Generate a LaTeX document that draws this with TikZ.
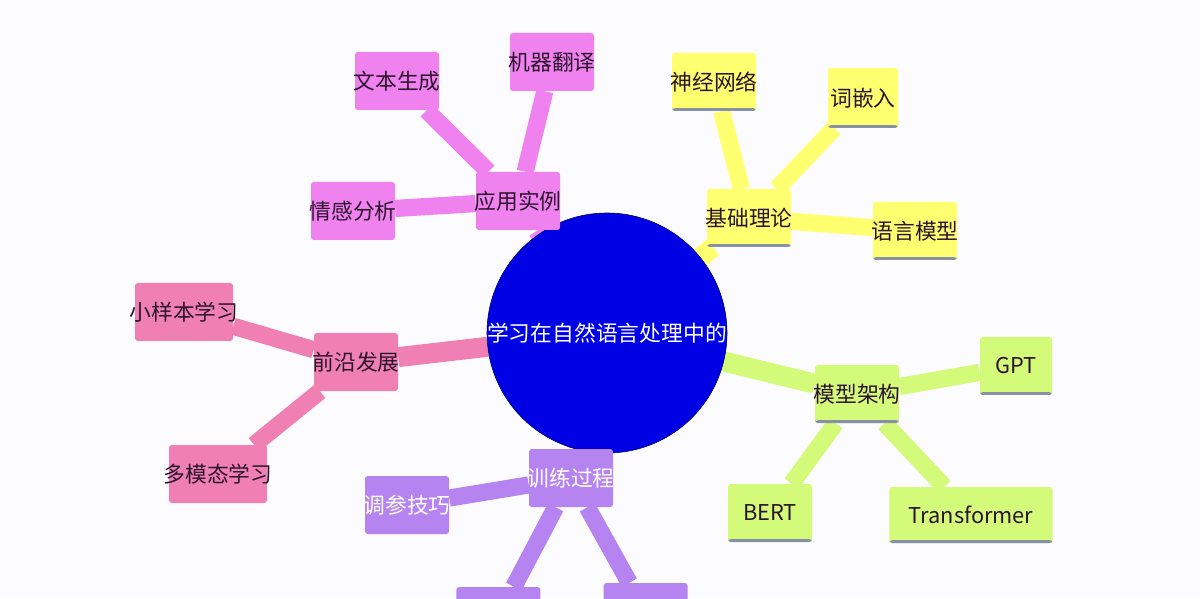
\documentclass[tikz,border=0pt]{standalone}
\usepackage{fontspec}
\setmainfont{Noto Sans CJK SC}
\usetikzlibrary{backgrounds}
\definecolor{appcol}{RGB}{240,130,240}
\definecolor{basecol}{RGB}{255,255,112}
\definecolor{archcol}{RGB}{212,250,122}
\definecolor{frontcol}{RGB}{240,128,180}
\definecolor{traincol}{RGB}{182,132,240}
\definecolor{hubcol}{RGB}{0,0,228}
\definecolor{inkcol}{RGB}{45,20,45}
\definecolor{shadecol}{RGB}{135,145,165}
\definecolor{paper}{RGB}{252,252,254}
\begin{document}
\begin{tikzpicture}[
    every node/.style={font=\fontsize{15.5}{18}\selectfont, text=inkcol},
    card/.style={fill=#1, rounded corners=2pt, inner xsep=-4pt, inner ysep=0pt,
      minimum width=2.1cm, minimum height=1.45cm},
    ruled/.style={path picture={\fill[shadecol] (path picture bounding box.south west)
      rectangle ([yshift=2pt]path picture bounding box.south east);}},
    stem/.style={draw=#1, line width=0.43cm},
    trunk/.style={draw=#1, line width=0.5cm}
  ]
    \useasboundingbox (0,0) rectangle (30,14.95);

    % centre
    \node[circle, fill=hubcol, draw=black!60!hubcol, minimum size=6cm, inner sep=0pt, text=white]
      (hub) at (15.175,6.625) {学习在自然语言处理中的};

    % 应用实例
    \node[card=appcol] (app)   at (12.95,9.925) {应用实例};
    \node[card=appcol] (gen)   at (9.925,12.925) {文本生成};
    \node[card=appcol] (mt)    at (13.8,13.4) {机器翻译};
    \node[card=appcol] (senti) at (8.825,9.675) {情感分析};

    % 基础理论
    \node[card=basecol, ruled] (base) at (18.725,9.5) {基础理论};
    \node[card=basecol, ruled] (nn)   at (17.85,12.9) {神经网络};
    \node[card=basecol, ruled, minimum width=1.75cm, minimum height=1.5cm] (emb) at (21.575,12.5) {词嵌入};
    \node[card=basecol, ruled] (lm)   at (22.875,9.175) {语言模型};

    % 模型架构
    \node[card=archcol, ruled] (arch) at (21.425,5.1) {模型架构};
    \node[card=archcol, ruled, minimum width=1.8cm] (gpt)  at (25.4,5.8) {GPT};
    \node[card=archcol, ruled] (bert) at (19.25,2.125) {BERT};
    \node[card=archcol, ruled, minimum width=4.08cm, minimum height=1.4cm] (trf) at (24.275,2.075) {Transformer};

    % 前沿发展
    \node[card=frontcol] (front) at (8.9,5.9) {前沿发展};
    \node[card=frontcol, minimum width=2.45cm] (few)   at (4.6,7.15) {小样本学习};
    \node[card=frontcol, minimum width=2.45cm] (multi) at (5.45,3.1) {多模态学习};

    % 训练过程
    \node[card=traincol, text=white] (train) at (14.275,3.0) {训练过程};
    \node[card=traincol, text=white] (tune)  at (10.175,2.325) {调参技巧};
    \node[card=traincol] (trainl) at (12.46,-0.45) {};
    \node[card=traincol] (trainr) at (16.14,-0.35) {};

    \begin{scope}[on background layer]
      \fill[paper] (0,0) rectangle (30,14.95);
      \clip (0,0) rectangle (30,14.95);
      \draw[trunk=appcol]   (hub) -- (app);
      \draw[trunk=basecol]  (hub) -- (base);
      \draw[trunk=archcol]  (hub) -- (arch);
      \draw[trunk=frontcol] (hub) -- (front);
      \draw[trunk=traincol] (hub) -- (train);
      \draw[stem=appcol]   (app) -- (gen);
      \draw[stem=appcol]   (app) -- (mt);
      \draw[stem=appcol]   (app) -- (senti);
      \draw[stem=basecol]  (base) -- (nn);
      \draw[stem=basecol]  (base) -- (emb);
      \draw[stem=basecol]  (base) -- (lm);
      \draw[stem=archcol]  (arch) -- (gpt);
      \draw[stem=archcol]  (arch) -- (bert);
      \draw[stem=archcol]  (arch) -- (trf);
      \draw[stem=frontcol] (front) -- (few);
      \draw[stem=frontcol] (front) -- (multi);
      \draw[stem=traincol] (train) -- (tune);
      \draw[stem=traincol] (train) -- (trainl);
      \draw[stem=traincol] (train) -- (trainr);
    \end{scope}
\end{tikzpicture}
\end{document}
